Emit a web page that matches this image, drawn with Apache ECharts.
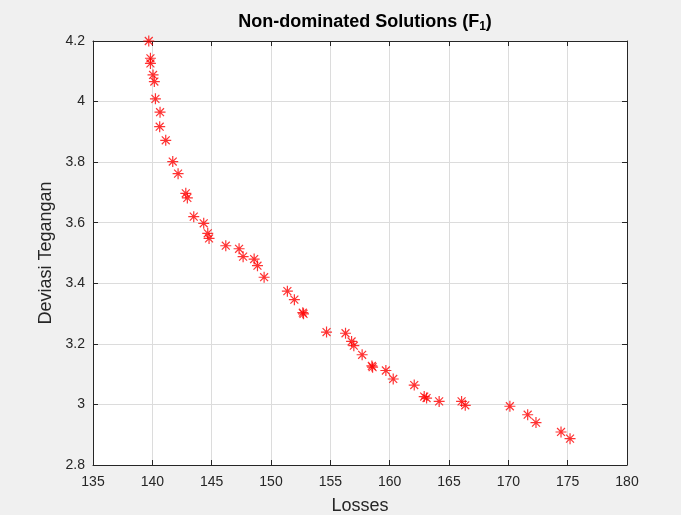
<!DOCTYPE html>
<html>
<head>
<meta charset="utf-8">
<script src="https://cdn.jsdelivr.net/npm/echarts@6/dist/echarts.min.js"></script>
<style>
  html, body { margin: 0; padding: 0; background: #f0f0f0; }
  #chart { width: 681px; height: 515px; }
</style>
</head>
<body>
<div id="chart"></div>
<script>
// Pareto front: losses vs voltage deviation
const losses = [
  139.70, 139.84, 139.84, 140.06, 140.17, 140.26, 140.65, 140.62, 141.13, 141.72,
  142.17, 142.82, 142.95, 143.49, 144.33, 144.67, 144.78, 146.19, 147.31, 147.65,
  148.58, 148.86, 149.42, 151.38, 151.97, 152.68, 152.74, 154.68, 156.28, 156.79,
  156.98, 157.68, 158.50, 158.56, 159.68, 160.30, 162.07, 162.91, 163.11, 164.17,
  166.06, 166.37, 170.13, 171.63, 172.33, 174.44, 175.20,
];
const deviasi = [
  4.200, 4.143, 4.126, 4.088, 4.066, 4.009, 3.965, 3.917, 3.872, 3.802,
  3.762, 3.697, 3.682, 3.620, 3.598, 3.565, 3.548, 3.524, 3.514, 3.488,
  3.480, 3.458, 3.420, 3.374, 3.346, 3.303, 3.299, 3.239, 3.235, 3.208,
  3.194, 3.164, 3.127, 3.123, 3.112, 3.084, 3.064, 3.026, 3.021, 3.010,
  3.010, 2.997, 2.994, 2.966, 2.940, 2.909, 2.887,
];

const xTicks = { min: 135, max: 180, step: 5 };
const yTicks = { min: 2.8, max: 4.2, step: 0.2 };

const ink = '#262626';
const font = 'Liberation Sans, Arial, sans-serif';
const asterisk = 'path://M0,-5L0,5M-5,0L5,0M-3.6,-3.6L3.6,3.6M-3.6,3.6L3.6,-3.6';

const chart = echarts.init(document.getElementById('chart'));

const sideAxis = {
  axisLine: { show: true, lineStyle: { color: ink } },
  axisTick: { show: true, inside: true, length: 5, lineStyle: { color: ink } },
  axisLabel: { show: false },
  splitLine: { show: false },
};

chart.setOption({
  backgroundColor: '#f0f0f0',
  animation: false,
  title: {
    text: 'Non-dominated Solutions (F{sub|1})',
    left: 360,
    top: 6,
    textAlign: 'center',
    textStyle: {
      fontFamily: font,
      fontSize: 18,
      fontWeight: 'bold',
      color: '#000',
      rich: {
        sub: { fontFamily: font, fontSize: 12, fontWeight: 'bold', color: '#000', verticalAlign: 'bottom', padding: [10, 0, 0, 0] },
      },
    },
  },
  grid: {
    left: 93, right: 54, top: 41, bottom: 50,
    outerBoundsMode: 'none',
    show: true, backgroundColor: '#fff', borderWidth: 0,
  },
  xAxis: [
    {
      type: 'value',
      min: xTicks.min, max: xTicks.max, interval: xTicks.step,
      name: 'Losses',
      nameLocation: 'middle',
      nameGap: 32,
      nameTextStyle: { fontFamily: font, fontSize: 18, color: ink },
      axisLine: { show: true, lineStyle: { color: ink } },
      axisTick: { show: true, inside: true, length: 5, lineStyle: { color: ink } },
      axisLabel: { fontFamily: font, fontSize: 14, color: ink, margin: 10 },
      splitLine: { show: true, lineStyle: { color: '#dcdcdc' } },
    },
    Object.assign({ type: 'value', position: 'top', min: xTicks.min, max: xTicks.max, interval: xTicks.step }, sideAxis),
  ],
  yAxis: [
    {
      type: 'value',
      min: yTicks.min, max: yTicks.max, interval: yTicks.step,
      name: 'Deviasi Tegangan',
      nameLocation: 'middle',
      nameGap: 37,
      nameTextStyle: { fontFamily: font, fontSize: 18, color: ink },
      axisLine: { show: true, lineStyle: { color: ink } },
      axisTick: { show: true, inside: true, length: 5, lineStyle: { color: ink } },
      axisLabel: { fontFamily: font, fontSize: 14, color: ink, margin: 8 },
      splitLine: { show: true, lineStyle: { color: '#dcdcdc' } },
    },
    Object.assign({ type: 'value', position: 'right', min: yTicks.min, max: yTicks.max, interval: yTicks.step }, sideAxis),
  ],
  series: [
    {
      type: 'scatter',
      symbol: asterisk,
      symbolSize: 11,
      itemStyle: { color: 'rgba(0,0,0,0)', borderColor: '#ff0000', borderWidth: 1.2 },
      data: losses.map((x, i) => [x, deviasi[i]]),
    },
  ],
});
</script>
</body>
</html>
